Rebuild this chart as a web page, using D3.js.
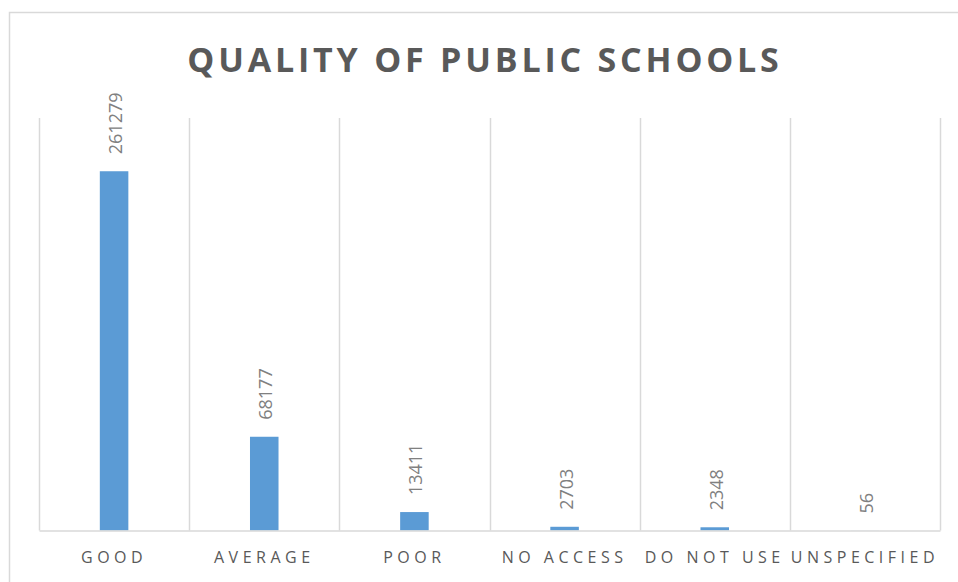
<!DOCTYPE html>
<html>
<head>
<meta charset="utf-8">
<script src="https://cdn.jsdelivr.net/npm/d3@7"></script>
<style>
  body { margin: 0; background: #fff; }
  svg { display: block; }
</style>
</head>
<body>
<svg id="chart" width="958" height="582"></svg>
<script>
var categories = ["GOOD", "AVERAGE", "POOR", "NO ACCESS", "DO NOT USE", "UNSPECIFIED"];
var values = [261279, 68177, 13411, 2703, 2348, 56];
var yMax = 300000;

var plotLeft = 39, plotRight = 940, plotTop = 118, plotBottom = 530.5;
var gridColor = "#d9d9d9";

var svg = d3.select("#chart");

// chart border (runs off the right and bottom edges)
svg.append("rect")
  .attr("x", 9.5).attr("y", 12.5)
  .attr("width", 960).attr("height", 600)
  .attr("fill", "white")
  .attr("stroke", gridColor)
  .attr("stroke-width", 1.5);

var x = d3.scaleBand().domain(categories).range([plotLeft, plotRight]).padding(0);
var y = d3.scaleLinear().domain([0, yMax]).range([plotBottom, plotTop]);

// vertical gridlines between categories
var edges = categories.map(function(c) { return x(c); }).concat([plotRight]);
svg.append("g").selectAll("line")
  .data(edges)
  .enter().append("line")
  .attr("x1", function(d) { return Math.round(d) + 0.5; })
  .attr("x2", function(d) { return Math.round(d) + 0.5; })
  .attr("y1", y(yMax))
  .attr("y2", y(0))
  .attr("stroke", gridColor)
  .attr("stroke-width", 1.5);

// bars
var barW = x.bandwidth() * 0.19;
svg.append("g").selectAll("rect")
  .data(values)
  .enter().append("rect")
  .attr("x", function(d, i) { return x(categories[i]) + x.bandwidth() / 2 - barW / 2; })
  .attr("y", function(d) { return y(d); })
  .attr("width", barW)
  .attr("height", function(d) { return y(0) - y(d); })
  .attr("fill", "#5b9bd5");

// x axis
var xAxis = svg.append("g")
  .attr("transform", "translate(0," + y(0) + ")")
  .call(d3.axisBottom(x).tickSize(0).tickPadding(0));
xAxis.select(".domain").attr("stroke", gridColor).attr("stroke-width", 1.5);
xAxis.selectAll("text")
  .attr("y", 32)
  .attr("dy", null)
  .attr("fill", "#595959")
  .style("font-family", "'Open Sans', sans-serif")
  .style("font-size", "16px")
  .style("letter-spacing", "4.5px");

// data labels, rotated
svg.append("g").selectAll("text")
  .data(values)
  .enter().append("text")
  .attr("transform", function(d, i) {
    var cx = x(categories[i]) + x.bandwidth() / 2 + 1;
    return "translate(" + cx + "," + (y(d) - 17) + ") rotate(-90)";
  })
  .attr("dominant-baseline", "central")
  .attr("fill", "#808080")
  .style("font-family", "'Open Sans', sans-serif")
  .style("font-size", "18px")
  .text(function(d) { return d; });

// title
svg.append("text")
  .attr("x", 485)
  .attr("y", 72)
  .attr("text-anchor", "middle")
  .attr("fill", "#595959")
  .style("font-family", "'Open Sans', sans-serif")
  .style("font-weight", "bold")
  .style("font-size", "34px")
  .style("letter-spacing", "3.8px")
  .text("QUALITY OF PUBLIC SCHOOLS");
</script>
</body>
</html>
